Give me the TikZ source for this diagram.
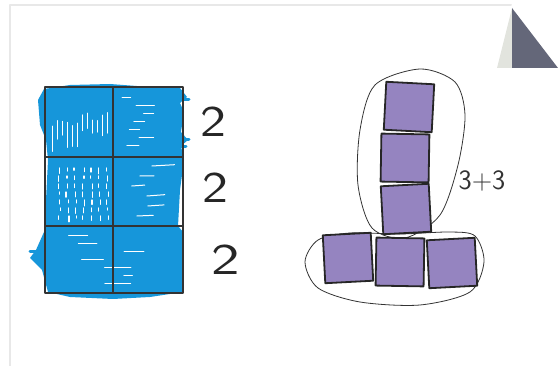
\documentclass[tikz,border=0pt]{standalone}
\definecolor{scrib}{RGB}{22,150,218}
\definecolor{tilefill}{RGB}{149,132,192}
\definecolor{fold}{RGB}{100,103,121}
\definecolor{foldlight}{RGB}{226,228,222}
\definecolor{pageedge}{RGB}{232,232,232}
\begin{document}
\begin{tikzpicture}[x=1pt,y=-1pt,line join=round,line cap=round]
	\tikzset{tile/.style={draw=black!85,line width=1.8pt,fill=tilefill,minimum size=48pt,inner sep=0pt},
		hand/.style={font=\sffamily\fontsize{44}{44}\selectfont,text=black!85,xscale=1.25},
		loopline/.style={draw=black!80,line width=0.8pt}}
	\useasboundingbox (0,0) rectangle (558,366);
	% page and folded corner
	\draw[pageedge,line width=2pt] (10,366) -- (10,5) -- (511,5);
	\fill[foldlight] (512,8) -- (497,68) -- (512,68) -- cycle;
	\fill[fold] (512,8) -- (558,68) -- (512,68) -- cycle;
	% scribbled grid
	\fill[scrib] (38,100) -- (44,89) -- (70,85) -- (110,84) -- (150,87) -- (180,88) -- (187,97) -- (180,103)
		-- (184,112) -- (181,132) -- (188,140) -- (181,146) -- (184,160) -- (180,190) -- (178,226)
		-- (183,232) -- (183,292) -- (150,297) -- (113,299) -- (70,297) -- (48,292) -- (42,270)
		-- (30,258) -- (36,250) -- (44,232) -- (46,200) -- (48,160) -- (46,140) -- (40,125) -- cycle;
	\pgfmathsetseed{11}
	\foreach \x in {52,57,...,108}
		\draw[white,line width=1pt] (\x,{112+rnd*15}) -- ++(0,{10+rnd*22});
	\foreach \y in {98,106,...,150}
		\draw[white,line width=1pt] ({120+rnd*30},\y) -- ++({6+rnd*18},0);
	\foreach \x in {58,66,...,106}
		\foreach \y in {168,176,...,216}
			\draw[white,line width=1.2pt] ({\x+rnd*3},\y) -- ++(0,{2+rnd*4});
	\foreach \y in {166,176,...,220}
		\draw[white,line width=1pt] ({125+rnd*30},{\y}) -- ++({8+rnd*15},{-2+rnd*3});
	\foreach \y in {236,244,...,288}
		\draw[white,line width=1pt] ({55+rnd*90},\y) -- ++({8+rnd*25},0);
	\foreach \y/\xa/\xb in {100/150/189,140/130/189,147/140/186,252/30/60,259/34/70}
		\draw[scrib,line width=3pt] (\xa,\y) -- (\xb,\y);
	\draw[black!80,line width=1.3pt] (45,87) rectangle (183,293);
	\draw[black!80,line width=1.3pt] (113,87) -- (113,293);
	\foreach \y in {157,226}
		\draw[black!80,line width=1.3pt] (45,\y) -- (183,\y);
	\node[hand] (two1) at (213,122) {2};
	\node[hand] (two2) at (215,188) {2};
	\node[hand,xscale=1.1] (two3) at (226,260) {2};
	% loops round the tiles
	\draw[loopline] plot[smooth cycle] coordinates {(420,69) (455,82) (465,115) (458,165) (440,215)
		(405,238) (372,228) (358,185) (360,130) (375,85)};
	\draw[loopline] plot[smooth cycle] coordinates {(305,262) (318,240) (350,233) (400,234) (450,232)
		(475,236) (484,262) (470,292) (420,305) (360,302) (318,288)};
	% tiles
	\node[tile,rotate=-3] (t1) at (409,107) {};
	\node[tile,rotate=-1] (t2) at (405,158) {};
	\node[tile,rotate=3] (t3) at (406,209) {};
	\node[tile,rotate=3] (b1) at (348,258) {};
	\node[tile,rotate=-1] (b2) at (400,262) {};
	\node[tile,rotate=3] (b3) at (452,263) {};
	\node[font=\sffamily\fontsize{28}{28}\selectfont,text=black!80] (sum) at (482,181) {3+3};
\end{tikzpicture}
\end{document}
